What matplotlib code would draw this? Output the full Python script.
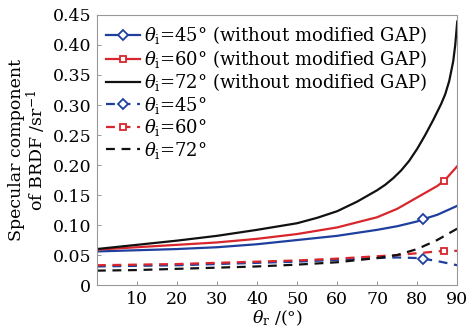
import numpy as np
import matplotlib
matplotlib.use("Agg")
import matplotlib.pyplot as plt

plt.rcParams['font.family'] = ['DejaVu Serif']
plt.rcParams['mathtext.fontset'] = 'dejavuserif'

# theta_r sample points (deg)
x_std = [0, 10, 20, 30, 40, 50, 60, 70, 75, 80, 85, 90]

# Solid lines (without modified GAP)
x_blue = [0, 10, 20, 30, 40, 50, 60, 70, 75, 80, 81.4, 85, 90]
blue_solid = [0.056, 0.058, 0.060, 0.063, 0.068, 0.075, 0.082, 0.092, 0.098, 0.106, 0.1095, 0.117, 0.132]

x_red = [0, 10, 20, 30, 40, 50, 60, 70, 75, 80, 85, 86.8, 90]
red_solid = [0.059, 0.063, 0.067, 0.071, 0.077, 0.085, 0.096, 0.113, 0.127, 0.146, 0.165, 0.174, 0.198]

x_black = [0, 10, 20, 30, 40, 50, 55, 60, 65, 70, 72, 74, 76, 78, 80, 82, 84, 86, 87, 88, 89, 89.5, 90]
black_solid = [0.060, 0.067, 0.074, 0.082, 0.092, 0.103, 0.112, 0.123, 0.139, 0.158, 0.167, 0.178,
               0.191, 0.207, 0.227, 0.250, 0.275, 0.302, 0.318, 0.340, 0.373, 0.400, 0.439]

# Dashed lines (with modified GAP)
blue_dash = [0.031, 0.032, 0.033, 0.035, 0.037, 0.039, 0.042, 0.045, 0.046, 0.045, 0.044, 0.040, 0.033]
red_dash = [0.033, 0.034, 0.035, 0.037, 0.039, 0.041, 0.044, 0.048, 0.050, 0.053, 0.056, 0.057, 0.057]
black_dash = [0.024, 0.025, 0.027, 0.029, 0.031, 0.034, 0.038, 0.045, 0.050, 0.060, 0.075, 0.094]

labels = [r"$\theta_{\rm i}$=45° (without modified GAP)",
          r"$\theta_{\rm i}$=60° (without modified GAP)",
          r"$\theta_{\rm i}$=72° (without modified GAP)",
          r"$\theta_{\rm i}$=45°",
          r"$\theta_{\rm i}$=60°",
          r"$\theta_{\rm i}$=72°"]

BLUE = '#1f3f9f'
RED = '#d8262c'
BLACK = '#111111'

fig = plt.figure(figsize=(4.68, 3.33), dpi=100)
ax = fig.add_axes([0.207, 0.144, 0.770, 0.811])

lw = 1.6
dmk = dict(marker='D', markersize=5.5, markerfacecolor='white', markeredgewidth=1.3)
smk = dict(marker='s', markersize=5, markerfacecolor='white', markeredgewidth=1.3)
dash = (0, (4, 3))
ax.plot(x_blue, blue_solid, color=BLUE, lw=lw, markevery=[10], label=labels[0], **dmk)
ax.plot(x_red, red_solid, color=RED, lw=lw, markevery=[11], label=labels[1], **smk)
ax.plot(x_black, black_solid, color=BLACK, lw=lw, label=labels[2])
ax.plot(x_blue, blue_dash, color=BLUE, lw=lw, ls=dash, markevery=[10], label=labels[3], **dmk)
ax.plot(x_red, red_dash, color=RED, lw=lw, ls=dash, markevery=[11], label=labels[4], **smk)
ax.plot(x_std, black_dash, color=BLACK, lw=lw, ls=dash, label=labels[5])

ax.set_xlim(0, 90)
ax.set_ylim(0, 0.45)
ax.set_xticks([10, 20, 30, 40, 50, 60, 70, 80, 90])
ax.set_yticks(np.arange(0, 0.451, 0.05))
ax.set_yticklabels(['0'] + ['%.2f' % v for v in np.arange(0.05, 0.451, 0.05)])
ax.tick_params(direction='in', length=3, width=0.6, color='#888888', labelsize=12.5, pad=4)
for s in ax.spines.values():
    s.set_color('#999999')
    s.set_linewidth(0.8)

ax.set_xlabel(r"$\theta_{\rm r}$ /(°)", fontsize=12.5, labelpad=1)
ax.set_ylabel("Specular component\nof BRDF /sr$^{-1}$", fontsize=12.5, labelpad=3, linespacing=1.0)

leg = ax.legend(loc='upper left', frameon=False, fontsize=13, handlelength=1.9,
                handletextpad=0.2, labelspacing=0.08, borderaxespad=0.2,
                bbox_to_anchor=(-0.005, 1.005))

fig.savefig('out.png', dpi=100)
